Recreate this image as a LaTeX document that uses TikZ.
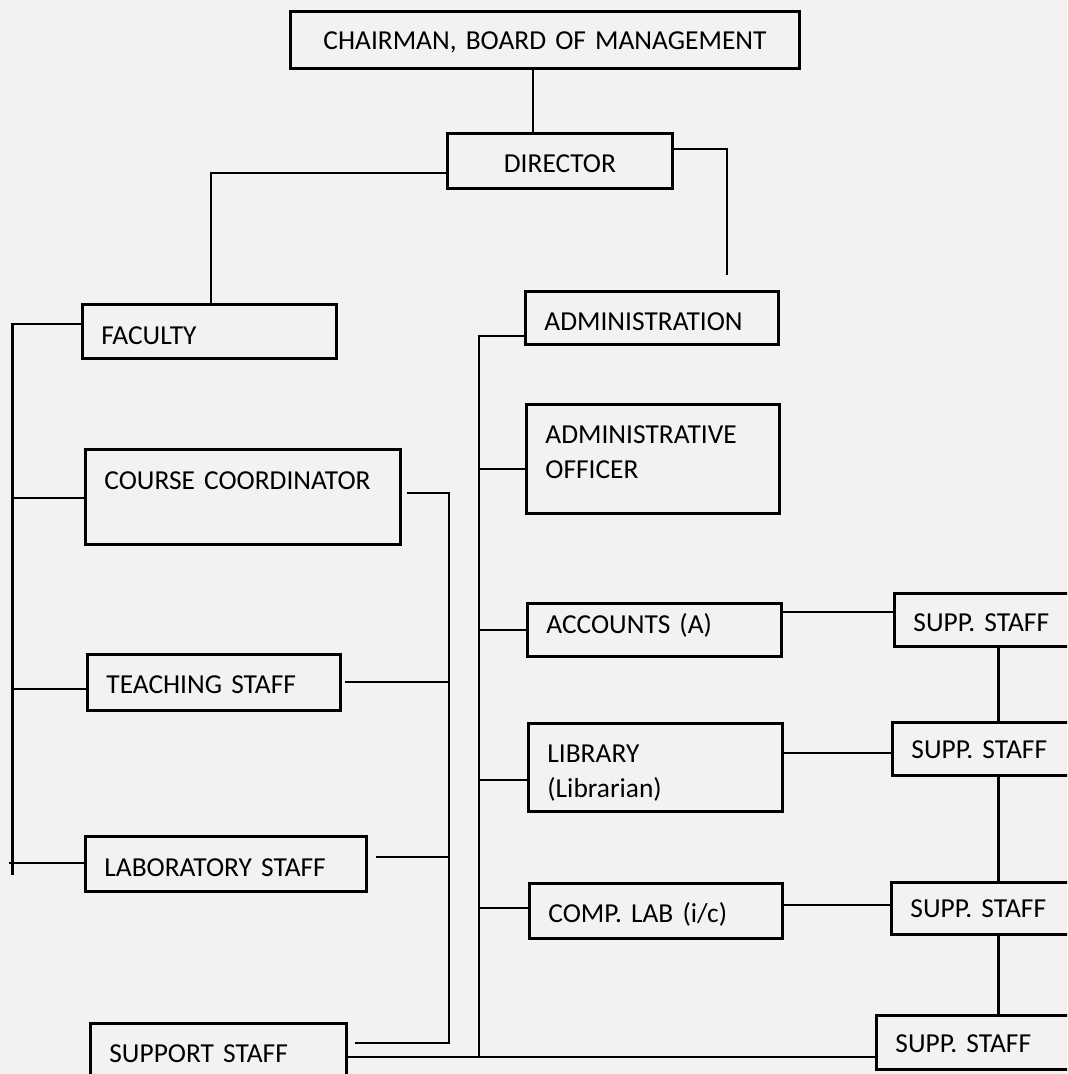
\documentclass[tikz,border=0pt]{standalone}
\usepackage{fontspec}
\setmainfont{Carlito}
\tikzset{
    unit/.style={
        draw,
        rectangle,
        line width=0.8pt,
        anchor=north west,
        inner xsep=0.19cm,
        inner ysep=0pt,
        align=left,
        font=\fontsize{7.8}{10}\selectfont
    },
    link/.style={
        line width=0.6pt
    }
}

\begin{document}
\begin{tikzpicture}
\clip (0,0) rectangle (10.67,-10.74);
\fill[black!5] (0,0) rectangle (10.67,-10.74);

\node[unit,align=center,text width=4.71cm,text height=0.38cm,text depth=0.19cm] (chair) at (2.89,-0.10) {CHAIRMAN, BOARD OF MANAGEMENT};
\node[unit,align=center,text width=1.87cm,text height=0.39cm,text depth=0.16cm] (dir) at (4.46,-1.32) {DIRECTOR};

\node[unit,text width=2.16cm,text height=0.40cm,text depth=0.14cm] (fac) at (0.81,-3.03) {FACULTY};
\node[unit,text width=2.77cm,text height=0.40cm,text depth=0.55cm] (cc) at (0.84,-4.48) {COURSE COORDINATOR};
\node[unit,text width=2.15cm,text height=0.39cm,text depth=0.17cm] (ts) at (0.86,-6.53) {TEACHING STAFF};
\node[unit,text width=2.43cm,text height=0.40cm,text depth=0.15cm] (ls) at (0.84,-8.35) {LABORATORY STAFF};
\node[unit,text width=2.18cm,text height=0.39cm,text depth=0.40cm] (ss) at (0.89,-10.22) {SUPPORT STAFF};

\node[unit,text width=2.15cm,text height=0.39cm,text depth=0.14cm] (adm) at (5.24,-2.90) {ADMINISTRATION};
\node[unit,text width=2.15cm,text height=0.39cm,text depth=0.70cm] (ofc) at (5.25,-4.03) {ADMINISTRATIVE\\OFFICER};
\node[unit,text width=2.16cm,text height=0.30cm,text depth=0.23cm] (acc) at (5.26,-6.02) {ACCOUNTS (A)};
\node[unit,text width=2.16cm,text height=0.39cm,text depth=0.49cm] (lib) at (5.27,-7.22) {LIBRARY\\(Librarian)};
\node[unit,text width=2.15cm,text height=0.39cm,text depth=0.16cm] (cl) at (5.28,-8.82) {COMP. LAB (i/c)};

\node[unit,text width=1.62cm,text height=0.38cm,text depth=0.15cm] (s1) at (8.93,-5.92) {SUPP. STAFF};
\node[unit,text width=1.62cm,text height=0.36cm,text depth=0.17cm] (s2) at (8.91,-7.21) {SUPP. STAFF};
\node[unit,text width=1.62cm,text height=0.35cm,text depth=0.17cm] (s3) at (8.90,-8.81) {SUPP. STAFF};
\node[unit,text width=1.82cm,text height=0.37cm,text depth=0.17cm] (s4) at (8.75,-10.14) {SUPP. STAFF};

\coordinate (chx) at (5.33,0);
\coordinate (fl) at (0.125,0);
\coordinate (fr) at (4.49,0);
\coordinate (ab) at (4.79,0);
\coordinate (sx) at (9.985,0);

\draw[link] (chx |- chair.south) -- (chx |- dir.north);
\draw[link] (dir.west |- 0,-1.73) -| (2.11,0 |- fac.north);
\draw[link] (dir.east |- 0,-1.49) -| (7.27,-2.75);

\draw[link] (fac.west |- 0,-3.24) -| (fl |- 0,-8.75);
\draw[link] (cc.west |- 0,-4.98) -- (fl |- 0,-4.98);
\draw[link] (ts.west |- 0,-6.89) -- (fl |- 0,-6.89);
\draw[link] (ls.west |- 0,-8.63) -- (0.09,-8.63);

\draw[link,shorten <=0.05cm,shorten >=0.07cm] (cc.east |- 0,-4.93) -| (fr |- 0,-10.43) -- (ss.east |- 0,-10.43);
\draw[link,shorten <=0.03cm] (ts.east |- 0,-6.82) -- (fr |- 0,-6.82);
\draw[link,shorten <=0.08cm] (ls.east |- 0,-8.57) -- (fr |- 0,-8.57);

\draw[link] (adm.west |- 0,-3.36) -| (ab |- 0,-10.57);
\draw[link] (ofc.west |- 0,-4.69) -- (ab |- 0,-4.69);
\draw[link] (acc.west |- 0,-6.30) -- (ab |- 0,-6.30);
\draw[link] (lib.west |- 0,-7.80) -- (ab |- 0,-7.80);
\draw[link] (cl.west |- 0,-9.08) -- (ab |- 0,-9.08);
\draw[link] (ss.east |- 0,-10.57) -- (s4.west |- 0,-10.57);

\draw[link] (acc.east |- 0,-6.12) -- (s1.west |- 0,-6.12);
\draw[link] (lib.east |- 0,-7.53) -- (s2.west |- 0,-7.53);
\draw[link] (cl.east |- 0,-9.05) -- (s3.west |- 0,-9.05);
\foreach \a/\b in {s1/s2,s2/s3,s3/s4}
  \draw[link] (sx |- \a.south) -- (sx |- \b.north);
\end{tikzpicture}
\end{document}
